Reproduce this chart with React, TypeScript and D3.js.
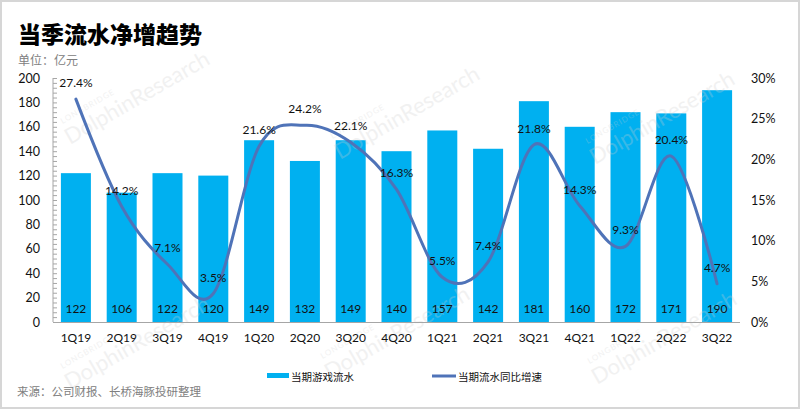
import { useEffect, useRef } from 'react';
import * as d3 from 'd3';

const quarters = ['1Q19', '2Q19', '3Q19', '4Q19', '1Q20', '2Q20', '3Q20', '4Q20', '1Q21', '2Q21', '3Q21', '4Q21', '1Q22', '2Q22', '3Q22'];
const billings = [122, 106, 122, 120, 149, 132, 149, 140, 157, 142, 181, 160, 172, 171, 190];
const yoyGrowth = [27.4, 14.2, 7.1, 3.5, 21.6, 24.2, 22.1, 16.3, 5.5, 7.4, 21.8, 14.3, 9.3, 20.4, 4.7];
const leftTicks = [0, 20, 40, 60, 80, 100, 120, 140, 160, 180, 200];
const rightTicks = [0, 5, 10, 15, 20, 25, 30];

const BAR_COLOR = '#00b0f0';
const LINE_COLOR = '#4f73b8';
const CJK = '"Noto Sans CJK SC", sans-serif';
const NUM = 'Lato, "Noto Sans", sans-serif';

export default function App() {
  const svgRef = useRef<SVGSVGElement>(null);

  useEffect(() => {
    if (!svgRef.current) return;
    document.body.style.margin = '0';

    const width = 800;
    const height = 410;
    const svg = d3.select(svgRef.current);
    svg.selectAll('*').remove();

    svg.append('rect')
      .attr('x', 1).attr('y', 1)
      .attr('width', width - 2).attr('height', height - 3)
      .attr('fill', '#ffffff')
      .attr('stroke', '#d6d6d6')
      .attr('stroke-width', 2);

    const x = d3.scaleBand<string>()
      .domain(quarters)
      .range([53, 740])
      .paddingInner(0.345)
      .paddingOuter(0.1725);

    const yLeft = d3.scaleLinear().domain([0, 200]).range([322, 78]);
    const yRight = d3.scaleLinear().domain([0, 30]).range([322, 78]);
    const cx = (q: string) => (x(q) || 0) + x.bandwidth() / 2;

    // Title and unit
    svg.append('text')
      .attr('x', 18).attr('y', 33)
      .attr('dominant-baseline', 'central')
      .attr('font-family', CJK)
      .attr('font-size', 23)
      .attr('font-weight', 900)
      .attr('fill', '#000')
      .text('当季流水净增趋势');

    svg.append('text')
      .attr('x', 18).attr('y', 59)
      .attr('dominant-baseline', 'central')
      .attr('font-family', CJK)
      .attr('font-size', 12)
      .attr('fill', '#808080')
      .text('单位：亿元');

    // Bars
    svg.append('g')
      .selectAll('rect')
      .data(quarters)
      .join('rect')
      .attr('x', d => x(d) || 0)
      .attr('y', (d, i) => yLeft(billings[i]))
      .attr('width', x.bandwidth())
      .attr('height', (d, i) => yLeft(0) - yLeft(billings[i]))
      .attr('fill', BAR_COLOR);

    // Watermarks (faint, drawn under the labels)
    const marks: [number, number][] = [[70, 145], [340, 160], [595, 165], [70, 390], [330, 380], [597, 385]];
    const wm = svg.append('g').attr('pointer-events', 'none');
    marks.forEach(([mx, my]) => {
      const g = wm.append('g').attr('transform', `translate(${mx},${my}) rotate(-30)`);
      g.append('text')
        .attr('x', 0).attr('y', 0)
        .attr('font-family', 'Lato, sans-serif')
        .attr('font-size', 22)
        .attr('fill', '#cfcfcf')
        .attr('opacity', 0.28)
        .text('DolphinResearch');
      g.append('text')
        .attr('x', 4).attr('y', -22)
        .attr('font-family', 'Lato, sans-serif')
        .attr('font-size', 8)
        .attr('letter-spacing', 1)
        .attr('fill', '#cfcfcf')
        .attr('opacity', 0.28)
        .text('LONGBRIDGE');
    });

    // Bar value labels
    svg.append('g')
      .selectAll('text')
      .data(quarters)
      .join('text')
      .attr('x', d => cx(d))
      .attr('y', 308)
      .attr('text-anchor', 'middle')
      .attr('dominant-baseline', 'central')
      .attr('font-family', NUM)
      .attr('font-size', 12)
      .attr('fill', '#111')
      .text((d, i) => billings[i]);

    // Left axis with minor ticks
    const leftAxis = svg.append('g');
    leftAxis.append('line')
      .attr('x1', 53).attr('x2', 53)
      .attr('y1', yLeft(0)).attr('y2', yLeft(200))
      .attr('stroke', '#a6a6a6');
    leftAxis.selectAll('line.minor')
      .data(d3.range(0, 201, 4))
      .join('line')
      .attr('class', 'minor')
      .attr('x1', 53).attr('x2', 57)
      .attr('y1', d => yLeft(d) + 0.5).attr('y2', d => yLeft(d) + 0.5)
      .attr('stroke', '#a6a6a6');
    leftAxis.selectAll('text')
      .data(leftTicks)
      .join('text')
      .attr('x', 40)
      .attr('y', d => yLeft(d))
      .attr('text-anchor', 'end')
      .attr('dominant-baseline', 'central')
      .attr('font-family', NUM)
      .attr('font-size', 12.5)
      .attr('fill', '#111')
      .text(d => d);

    // Right axis labels
    svg.append('g')
      .selectAll('text')
      .data(rightTicks)
      .join('text')
      .attr('x', 751)
      .attr('y', d => yRight(d))
      .attr('dominant-baseline', 'central')
      .attr('font-family', NUM)
      .attr('font-size', 12.5)
      .attr('fill', '#111')
      .text(d => `${d}%`);

    // X axis
    svg.append('line')
      .attr('x1', 53).attr('x2', 740)
      .attr('y1', yLeft(0) + 0.5).attr('y2', yLeft(0) + 0.5)
      .attr('stroke', '#a6a6a6');
    svg.append('g')
      .selectAll('text')
      .data(quarters)
      .join('text')
      .attr('x', d => cx(d))
      .attr('y', 337)
      .attr('text-anchor', 'middle')
      .attr('dominant-baseline', 'central')
      .attr('font-family', NUM)
      .attr('font-size', 12)
      .attr('fill', '#111')
      .text(d => d);

    // Growth line
    const line = d3.line<number>()
      .x((d, i) => cx(quarters[i]))
      .y(d => yRight(d))
      .curve(d3.curveCatmullRom.alpha(0));
    svg.append('path')
      .attr('d', line(yoyGrowth) || '')
      .attr('fill', 'none')
      .attr('stroke', LINE_COLOR)
      .attr('stroke-width', 3)
      .attr('stroke-linecap', 'round');

    svg.append('g')
      .selectAll('text')
      .data(yoyGrowth)
      .join('text')
      .attr('x', (d, i) => cx(quarters[i]))
      .attr('y', d => yRight(d) - 16.5)
      .attr('text-anchor', 'middle')
      .attr('dominant-baseline', 'central')
      .attr('font-family', NUM)
      .attr('font-size', 12)
      .attr('fill', '#111')
      .text(d => `${d.toFixed(1)}%`);

    // Legend
    const legend = svg.append('g');
    legend.append('rect')
      .attr('x', 267).attr('y', 373)
      .attr('width', 22).attr('height', 5)
      .attr('fill', BAR_COLOR);
    legend.append('text')
      .attr('x', 291).attr('y', 376)
      .attr('dominant-baseline', 'central')
      .attr('font-family', CJK)
      .attr('font-size', 10.5)
      .attr('fill', '#111')
      .text('当期游戏流水');
    legend.append('line')
      .attr('x1', 432).attr('x2', 456)
      .attr('y1', 376).attr('y2', 376)
      .attr('stroke', LINE_COLOR)
      .attr('stroke-width', 3);
    legend.append('text')
      .attr('x', 458).attr('y', 376)
      .attr('dominant-baseline', 'central')
      .attr('font-family', CJK)
      .attr('font-size', 10.5)
      .attr('fill', '#111')
      .text('当期流水同比增速');

    // Source
    svg.append('text')
      .attr('x', 17).attr('y', 391)
      .attr('dominant-baseline', 'central')
      .attr('font-family', CJK)
      .attr('font-size', 11.5)
      .attr('fill', '#808080')
      .text('来源：公司财报、长桥海豚投研整理');
  }, []);

  return <svg ref={svgRef} width={800} height={410} style={{ display: 'block' }} />;
}
